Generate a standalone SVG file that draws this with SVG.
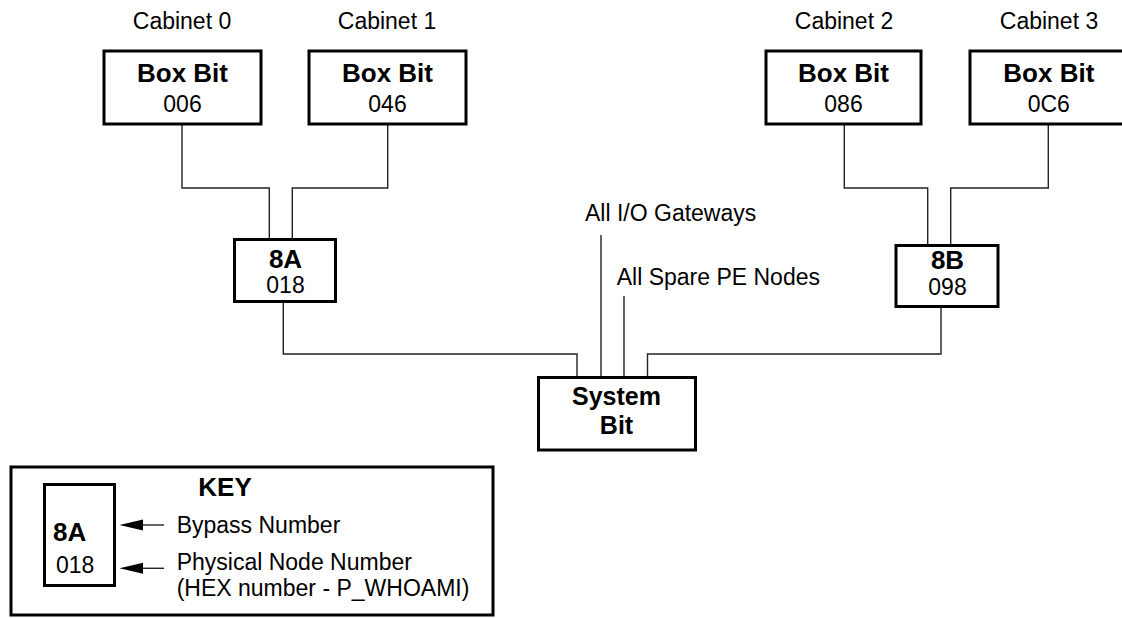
<svg xmlns="http://www.w3.org/2000/svg" width="1122" height="618" viewBox="0 0 1122 618">
<style>
.box{fill:#fff;stroke:#000;stroke-width:3}
.ln{fill:none;stroke:#222;stroke-width:1.4}
.t{font-family:"Liberation Sans",Arial,sans-serif;font-size:23px;fill:#000}
.b{font-family:"Liberation Sans",Arial,sans-serif;font-size:26px;font-weight:bold;fill:#000}
.s{font-family:"Liberation Sans",Arial,sans-serif;font-size:25px;font-weight:bold;fill:#000}
.m{text-anchor:middle}
</style>
<rect width="1122" height="618" fill="#fff"/>
<g id="connectors">
<path class="ln" d="M182 124.5V188H269.3V239"/>
<path class="ln" d="M387.7 124.5V188H292.3V239"/>
<path class="ln" d="M844.3 124.5V188H927.7V245"/>
<path class="ln" d="M1048.3 124.5V188H950.7V245"/>
<path class="ln" d="M283.3 302V354H577V377"/>
<path class="ln" d="M941 306.5V354H647.5V377"/>
<path class="ln" d="M601 235V377"/>
<path class="ln" d="M624 296V377"/>
</g>
<g id="cab0">
<text class="t m" x="182" y="28.5">Cabinet 0</text>
<rect class="box" x="104" y="51" width="157" height="73"/>
<text class="b m" x="182.5" y="81.7">Box Bit</text>
<text class="t m" x="182.5" y="112.3">006</text>
</g>
<g id="cab1">
<text class="t m" x="387" y="28.5">Cabinet 1</text>
<rect class="box" x="309" y="51" width="157" height="73"/>
<text class="b m" x="387.5" y="81.7">Box Bit</text>
<text class="t m" x="387.5" y="112.3">046</text>
</g>
<g id="cab2">
<text class="t m" x="844" y="28.5">Cabinet 2</text>
<rect class="box" x="766" y="51" width="155" height="73"/>
<text class="b m" x="843.5" y="81.7">Box Bit</text>
<text class="t m" x="843.5" y="112.3">086</text>
</g>
<g id="cab3">
<text class="t m" x="1049" y="28.5">Cabinet 3</text>
<rect class="box" x="970" y="51" width="157" height="73"/>
<text class="b m" x="1048.8" y="81.7">Box Bit</text>
<text class="t m" x="1048.8" y="112.3">0C6</text>
</g>
<g id="n8A">
<rect class="box" x="234.5" y="239.5" width="101" height="62"/>
<text class="b m" x="285.5" y="268.3">8A</text>
<text class="t m" x="285.5" y="293.3">018</text>
</g>
<g id="n8B">
<rect class="box" x="896" y="245.5" width="102" height="61"/>
<text class="b m" x="947.5" y="269">8B</text>
<text class="t m" x="947.5" y="295">098</text>
</g>
<g id="system">
<rect class="box" x="538.5" y="377.5" width="157" height="72.5"/>
<text class="s m" x="616.5" y="405">System</text>
<text class="s m" x="616.5" y="433.5">Bit</text>
</g>
<g id="gateways">
<text class="t" x="585" y="220.7">All I/O Gateways</text>
</g>
<g id="spare">
<text class="t" x="616.7" y="285">All Spare PE Nodes</text>
</g>
<g id="key">
<rect class="box" x="11" y="467" width="482" height="148"/>
<text class="b" x="198.3" y="496">KEY</text>
<rect class="box" x="44.5" y="484.5" width="70" height="101"/>
<text class="b" x="53" y="541">8A</text>
<text class="t" x="56" y="573.3">018</text>
<line class="ln" x1="140" y1="525" x2="164" y2="525"/>
<polygon points="119.5,525 143,519.5 143,530.5" fill="#000"/>
<line class="ln" x1="140" y1="568.3" x2="164" y2="568.3"/>
<polygon points="119.5,568.3 143,562.8 143,573.8" fill="#000"/>
<text class="t" x="176.7" y="532.7">Bypass Number</text>
<text class="t" x="176.7" y="570">Physical Node Number</text>
<text class="t" x="176.7" y="596">(HEX number - P_WHOAMI)</text>
</g>
</svg>
